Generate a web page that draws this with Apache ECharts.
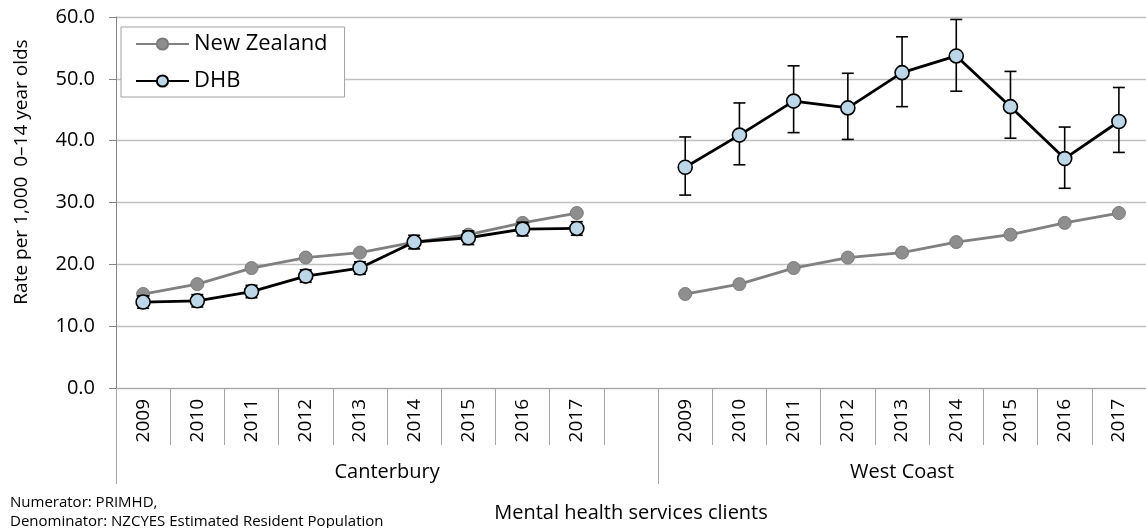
<!DOCTYPE html>
<html>
<head>
<meta charset="utf-8">
<script src="https://cdn.jsdelivr.net/npm/echarts@6/dist/echarts.min.js"></script>
<style>
html,body{margin:0;padding:0;background:#fff;}
#chart{width:1146px;height:528px;}
</style>
</head>
<body>
<div id="chart"></div>
<script>
// ---- data ----
var years = ['2009','2010','2011','2012','2013','2014','2015','2016','2017'];
var groups = ['Canterbury', 'West Coast'];
var yTicks = [0, 10, 20, 30, 40, 50, 60];

var nzRate = [15.2, 16.8, 19.4, 21.1, 21.9, 23.6, 24.8, 26.7, 28.3];

var canterburyRate  = [13.9, 14.1, 15.6, 18.1, 19.4, 23.6, 24.3, 25.7, 25.8];
var canterburyLower = [12.9, 13.1, 14.6, 17.1, 18.4, 22.5, 23.2, 24.6, 24.7];
var canterburyUpper = [14.9, 15.1, 16.6, 19.1, 20.4, 24.7, 25.4, 26.8, 26.9];

var westCoastRate  = [35.7, 40.9, 46.4, 45.3, 51.0, 53.7, 45.5, 37.1, 43.1];
var westCoastLower = [31.2, 36.1, 41.3, 40.2, 45.5, 48.0, 40.4, 32.3, 38.1];
var westCoastUpper = [40.6, 46.1, 52.1, 50.9, 56.8, 59.6, 51.2, 42.2, 48.6];

// ---- build category slots: group 1, gap, group 2 ----
var catKeys = [], catLabels = [];
years.forEach(function(y){ catKeys.push(groups[0] + ' ' + y); catLabels.push(y); });
catKeys.push('gap'); catLabels.push('');
years.forEach(function(y){ catKeys.push(groups[1] + ' ' + y); catLabels.push(y); });

var nzData = nzRate.concat([null]).concat(nzRate);
var dhbData = canterburyRate.concat([null]).concat(westCoastRate);
var errData = [];
canterburyLower.forEach(function(l, i){ errData.push([i, l, canterburyUpper[i]]); });
westCoastLower.forEach(function(l, i){ errData.push([i + years.length + 1, l, westCoastUpper[i]]); });

// group spans on the slot scale
var groupStart = [0, years.length + 1];
var groupEnd = [years.length + 1, 2 * years.length + 1];
var groupMid = groupStart.map(function(s, i){ return (s + groupEnd[i]) / 2; });

var FONT = '"Open Sans", "Noto Sans", sans-serif';
var chart = echarts.init(document.getElementById('chart'));

chart.setOption({
  animation: false,
  backgroundColor: '#ffffff',
  textStyle: { fontFamily: FONT, color: '#000' },
  grid: { left: 116, top: 17, width: 1039, height: 373.5, containLabel: false },
  legend: {
    data: ['New Zealand', 'DHB'],
    orient: 'vertical',
    left: 121, top: 27,
    padding: [6, 17, 5, 14],
    itemGap: 15,
    itemWidth: 53, itemHeight: 14,
    itemTextGap: 5,
    backgroundColor: '#fff',
    borderColor: '#a0a0a0', borderWidth: 1, borderRadius: 0,
    textStyle: { fontSize: 22, fontFamily: FONT, color: '#000', lineHeight: 22 }
  },
  xAxis: [
    {
      type: 'category',
      data: catKeys,
      boundaryGap: true,
      axisLine: { show: true, lineStyle: { color: '#a6a6a6', width: 1 } },
      axisTick: { show: true, interval: 0, length: 57, lineStyle: { color: '#a6a6a6', width: 1 } },
      axisLabel: {
        interval: 0, rotate: 90, margin: 11, fontSize: 19, color: '#000', fontFamily: FONT,
        formatter: function(v, i){ return catLabels[i]; }
      },
      splitLine: { show: false }
    },
    {
      type: 'value',
      min: 0, max: 2 * years.length + 1,
      position: 'bottom',
      axisLine: { show: false },
      axisTick: { show: true, customValues: groupStart, length: 96, lineStyle: { color: '#a6a6a6', width: 1 } },
      axisLabel: {
        customValues: groupMid, margin: 74, fontSize: 20, color: '#000', fontFamily: FONT,
        formatter: function(v){ var i = groupMid.indexOf(v); return i >= 0 ? groups[i] : ''; }
      },
      splitLine: { show: false },
      name: 'Mental health services clients',
      nameLocation: 'middle',
      nameGap: 115,
      nameTextStyle: { fontSize: 20, color: '#000', fontFamily: FONT }
    }
  ],
  yAxis: {
    type: 'value',
    min: 0, max: 60, interval: 10,
    axisLine: { show: true, lineStyle: { color: '#868686', width: 1 } },
    axisTick: { show: true, length: 7, lineStyle: { color: '#868686' } },
    axisLabel: {
      margin: 21, fontSize: 20, color: '#000', fontFamily: FONT,
      customValues: yTicks,
      formatter: function(v){ return v.toFixed(1); }
    },
    splitLine: { show: true, lineStyle: { color: '#c0c0c0', width: 1.3 } }
  },
  graphic: [
    { type: 'text', x: 22, y: 172, rotation: Math.PI / 2,
      style: { text: 'Rate per 1,000  0\u201314 year olds', font: '19px ' + FONT, fill: '#000',
               align: 'center', verticalAlign: 'middle' } },
    { type: 'text', x: 10, y: 503,
      style: { text: 'Numerator: PRIMHD,', font: '15px ' + FONT, fill: '#000',
               align: 'left', verticalAlign: 'middle' } },
    { type: 'text', x: 10, y: 522,
      style: { text: 'Denominator: NZCYES Estimated Resident Population', font: '15px ' + FONT, fill: '#000',
               align: 'left', verticalAlign: 'middle' } }
  ],
  series: [
    {
      name: 'New Zealand', type: 'line', data: nzData, z: 2,
      symbol: 'circle', symbolSize: 13, showSymbol: true, connectNulls: false,
      lineStyle: { color: '#808080', width: 2.8 },
      itemStyle: { color: '#8e8e8e', borderColor: '#7a7a7a', borderWidth: 1 }
    },
    {
      name: 'CI', type: 'custom', z: 3, data: errData,
      encode: { x: 0, y: [1, 2] },
      renderItem: function(params, api){
        var lo = api.coord([api.value(0), api.value(1)]);
        var hi = api.coord([api.value(0), api.value(2)]);
        var w = 6;
        var st = { stroke: '#000', lineWidth: 1.6 };
        return { type: 'group', children: [
          { type: 'line', shape: { x1: lo[0], y1: lo[1], x2: hi[0], y2: hi[1] }, style: st },
          { type: 'line', shape: { x1: lo[0] - w, y1: lo[1], x2: lo[0] + w, y2: lo[1] }, style: st },
          { type: 'line', shape: { x1: hi[0] - w, y1: hi[1], x2: hi[0] + w, y2: hi[1] }, style: st }
        ]};
      }
    },
    {
      name: 'DHB', type: 'line', data: dhbData, z: 4,
      symbol: 'circle', symbolSize: 14, showSymbol: true, connectNulls: false,
      lineStyle: { color: '#000', width: 2.8 },
      itemStyle: { color: '#bdd7e8', borderColor: '#000', borderWidth: 1.6 }
    }
  ]
});
</script>
</body>
</html>
